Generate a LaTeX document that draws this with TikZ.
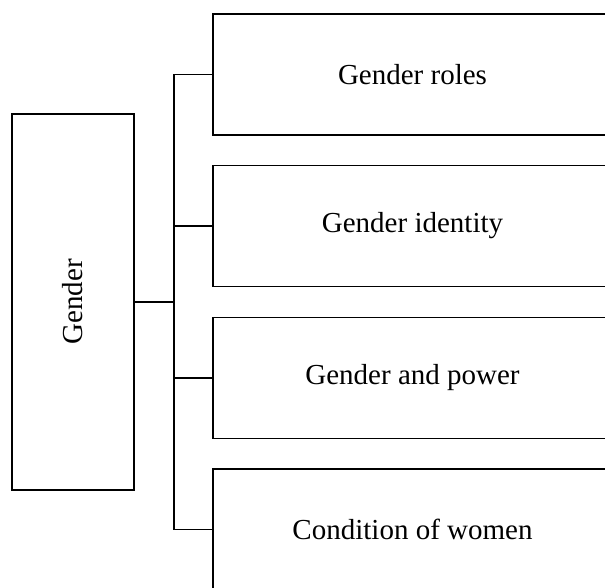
\documentclass[tikz,border=0pt]{standalone}
\usepackage{fontspec}
\setmainfont{Liberation Serif}
\begin{document}
\begin{tikzpicture}[x=1pt,y=-1pt,
  boxstyle/.style={draw=black,line width=1.6pt,inner sep=0pt,font=\fontsize{29}{34}\selectfont},
  linkstyle/.style={draw=black,line width=1.6pt}]
\useasboundingbox (0,0) rectangle (605,588);
\clip (0,0) rectangle (605,588);
\node[boxstyle,minimum width=122pt,minimum height=376pt] (g) at (73,302) {};
\node[rotate=90,font=\fontsize{29}{34}\selectfont] (gt) at (73,302) {Gender};
\node[boxstyle,minimum width=399pt,minimum height=121pt] (r1) at (412.5,74.5) {Gender roles};
\node[boxstyle,minimum width=399pt,minimum height=121pt] (r2) at (412.5,226) {Gender identity};
\node[boxstyle,minimum width=399pt,minimum height=121pt] (r3) at (412.5,378) {Gender and power};
\node[boxstyle,minimum width=399pt,minimum height=121pt] (r4) at (412.5,529.5) {Condition of women};
\coordinate (bus) at (174,302);
\draw[linkstyle] (g.east) -- (bus);
\draw[linkstyle] (r1.west) -| (bus);
\draw[linkstyle] (r2.west) -| (bus);
\draw[linkstyle] (r3.west) -| (bus);
\draw[linkstyle] (r4.west) -| (bus);
\end{tikzpicture}
\end{document}
